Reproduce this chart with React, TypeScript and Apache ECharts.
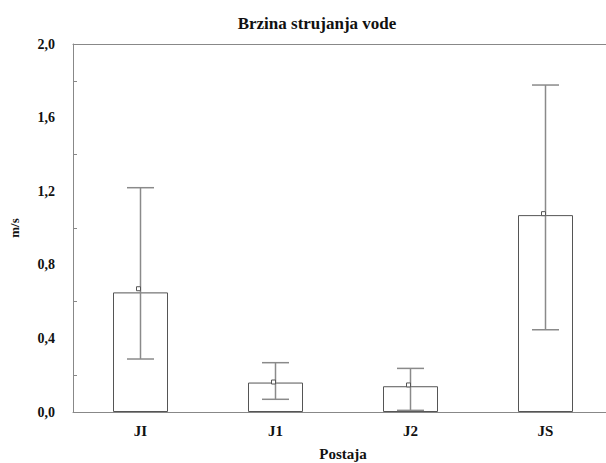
import React, { useEffect, useRef } from "react";
import * as echarts from "echarts";

const categories = ["JI", "J1", "J2", "JS"];
const barValues = [0.65, 0.16, 0.14, 1.07];
const meanValues = [0.67, 0.163, 0.147, 1.078];
const lowValues = [0.288, 0.069, 0.009, 0.447];
const highValues = [1.219, 0.268, 0.237, 1.777];
const yTicks = [0, 0.4, 0.8, 1.2, 1.6, 2.0];

const FONT = "Liberation Serif";

export default function App() {
  const ref = useRef<HTMLDivElement>(null);
  useEffect(() => {
    if (!ref.current) return;
    const chart = echarts.init(ref.current, null, { renderer: "svg" });
    const errData = categories.map((_, i) => [i, lowValues[i], highValues[i], meanValues[i]]);
    chart.setOption({
      animation: false,
      backgroundColor: "#ffffff",
      textStyle: { fontFamily: FONT },
      title: {
        text: "Brzina strujanja vode",
        left: 312,
        top: 10,
        textAlign: "center",
        textStyle: { fontFamily: FONT, fontSize: 17, fontWeight: "bold", color: "#111" },
      },
      grid: { left: 73, top: 44, width: 540, height: 368, outerBoundsMode: "none", containLabel: false },
      xAxis: [
        {
          type: "category",
          data: categories,
          position: "bottom",
          axisLine: { lineStyle: { color: "#888", width: 1 } },
          axisTick: { inside: true, alignWithLabel: true, length: 4, lineStyle: { color: "#888" } },
          axisLabel: { fontFamily: FONT, fontSize: 15, fontWeight: "bold", color: "#111", margin: 11 },
          name: "Postaja",
          nameLocation: "middle",
          nameGap: 34,
          nameTextStyle: { fontFamily: FONT, fontSize: 15, fontWeight: "bold", color: "#111" },
        },
        {
          type: "category",
          data: categories,
          position: "top",
          axisLine: { lineStyle: { color: "#888", width: 1 } },
          axisTick: { inside: true, alignWithLabel: true, length: 4, lineStyle: { color: "#888" } },
          axisLabel: { show: false },
        },
      ],
      yAxis: {
        type: "value",
        min: 0,
        max: 2,
        interval: 0.4,
        axisLine: { show: true, lineStyle: { color: "#888", width: 1 } },
        axisTick: { show: false, inside: true },
        minorTick: { show: true, splitNumber: 2, length: 4, lineStyle: { color: "#888" } },
        splitLine: { show: false },
        axisLabel: {
          fontFamily: FONT,
          fontSize: 14,
          fontWeight: "bold",
          color: "#111",
          margin: 18,
          customValues: yTicks,
          formatter: (v: number) => v.toFixed(1).replace(".", ","),
        },
        name: "m/s",
        nameLocation: "middle",
        nameGap: 52,
        nameTextStyle: { fontFamily: FONT, fontSize: 13, fontWeight: "bold", color: "#111" },
      },
      series: [
        {
          type: "bar",
          data: barValues,
          barWidth: 55,
          itemStyle: { color: "#ffffff", borderColor: "#555", borderWidth: 1 },
          silent: true,
        },
        {
          type: "custom",
          data: errData,
          z: 10,
          renderItem: (params: any, api: any) => {
            const idx = api.value(0);
            const lo = api.coord([idx, api.value(1)]);
            const hi = api.coord([idx, api.value(2)]);
            const mean = api.coord([idx, api.value(3)]);
            const cx = lo[0];
            const half = 13.5;
            const st = { stroke: "#8a8a8a", lineWidth: 1.5, fill: null };
            return {
              type: "group",
              children: [
                { type: "line", shape: { x1: cx, y1: hi[1], x2: cx, y2: lo[1] }, style: st },
                { type: "line", shape: { x1: cx - half, y1: hi[1], x2: cx + half, y2: hi[1] }, style: st },
                { type: "line", shape: { x1: cx - half, y1: lo[1], x2: cx + half, y2: lo[1] }, style: st },
                {
                  type: "rect",
                  shape: { x: cx - 4, y: mean[1] - 2, width: 4, height: 4 },
                  style: { stroke: "#555", lineWidth: 1, fill: "#fff" },
                },
              ],
            };
          },
        },
      ],
    });
    return () => chart.dispose();
  }, []);
  return (
    <div
      ref={ref}
      style={{ position: "absolute", left: 0, top: 0, width: 606, height: 463 }}
    />
  );
}
